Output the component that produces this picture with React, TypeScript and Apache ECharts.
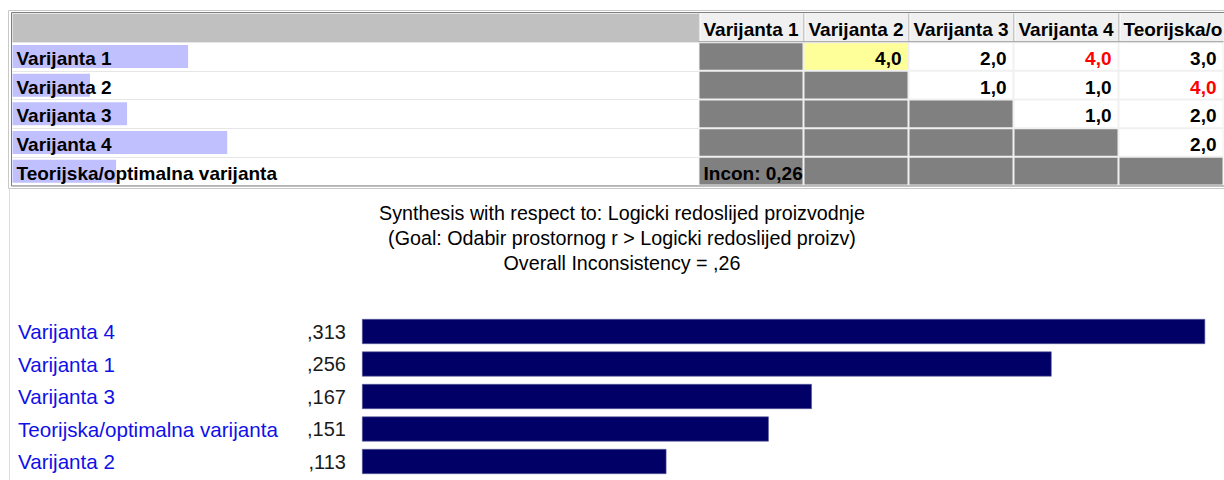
import React, { useEffect, useRef } from "react";
import * as echarts from "echarts";

// ---------- data ----------
const alternatives = [
  "Varijanta 1",
  "Varijanta 2",
  "Varijanta 3",
  "Varijanta 4",
  "Teorijska/optimalna varijanta",
];
const priorities = [0.256, 0.113, 0.167, 0.313, 0.151];
// upper-triangle pairwise judgments (row vs column)
const judgments: (number | null)[][] = [
  [null, 4.0, 2.0, 4.0, 3.0],
  [null, null, 1.0, 1.0, 4.0],
  [null, null, null, 1.0, 2.0],
  [null, null, null, null, 2.0],
  [null, null, null, null, null],
];
const invertedCells = [
  [0, 3],
  [1, 4],
];
const selectedCell = [0, 1];
const inconsistency = 0.26;
const titleLines = [
  "Synthesis with respect to: Logicki redoslijed proizvodnje",
  "(Goal: Odabir prostornog r > Logicki redoslijed proizv)",
];

// ---------- helpers ----------
const FONT = '"Liberation Sans", Arial, Helvetica, sans-serif';
const fmt1 = (v: number) => v.toFixed(1).replace(".", ",");
const fmtPri = (v: number) => v.toFixed(3).replace(/^0\./, ",");
const fmtInc = (v: number) => v.toFixed(2).replace(/^0\./, ",");

type Cell = { col: number; row: number; kind: string; text: string; red: boolean };
const cells: Cell[] = [];
alternatives.forEach((a, c) => cells.push({ col: c, row: 0, kind: "header", text: a, red: false }));
judgments.forEach((rowVals, r) => {
  rowVals.forEach((v, c) => {
    if (c <= r) {
      const text = r === alternatives.length - 1 && c === 0 ? "Incon: " + inconsistency.toFixed(2).replace(".", ",") : "";
      cells.push({ col: c, row: r + 1, kind: "gray", text, red: false });
    } else {
      const isSel = selectedCell[0] === r && selectedCell[1] === c;
      const isRed = invertedCells.some((p) => p[0] === r && p[1] === c);
      cells.push({ col: c, row: r + 1, kind: isSel ? "yellow" : "white", text: v == null ? "" : fmt1(v), red: isRed });
    }
  });
});

const synthesis = alternatives
  .map((name, i) => ({ name, value: priorities[i] }))
  .sort((a, b) => b.value - a.value);

export default function App() {
  const ref = useRef<HTMLDivElement>(null);
  useEffect(() => {
    document.body.style.margin = "0";
    if (!ref.current) return;
    const chart = echarts.init(ref.current, null, { renderer: "svg" });
    const tableTop = 13.5;
    const tableH = 172;
    const boldFont = `bold 19px ${FONT}`;
    const option: any = {
      animation: false,
      backgroundColor: "#ffffff",
      title: {
        text: [...titleLines, "Overall Inconsistency = " + fmtInc(inconsistency)].join("\n"),
        left: 622,
        top: 200,
        padding: 0,
        textAlign: "center",
        textStyle: {
          fontFamily: FONT,
          fontSize: 19.7,
          fontWeight: "normal",
          color: "#000",
          lineHeight: 25,
        },
      },
      grid: [
        { left: 12.5, top: tableTop, width: 686, height: tableH, show: false, containLabel: false },
        { left: 698.5, top: tableTop, width: 525, height: tableH, show: true, backgroundColor: "#f0f0f0", borderWidth: 0 },
        { left: 362, top: 315.25, width: 862, height: 162.5, show: false },
      ],
      xAxis: [
        { gridIndex: 0, type: "value", min: 0, max: 1, show: false },
        { gridIndex: 1, type: "category", data: alternatives, show: false },
        { gridIndex: 2, type: "value", min: 0, max: 0.32, show: false },
      ],
      yAxis: [
        {
          gridIndex: 0,
          type: "category",
          data: ["", ...alternatives],
          inverse: true,
          axisLine: { show: false },
          axisTick: { show: false },
          axisLabel: { show: false },
          splitLine: { show: true, interval: 0, lineStyle: { color: "#e6e6e6", width: 1 } },
          splitArea: {
            show: true,
            interval: 0,
            areaStyle: { color: ["#c0c0c0", "#ffffff", "#ffffff", "#ffffff", "#ffffff", "#ffffff"] },
          },
        },
        {
          gridIndex: 1,
          type: "category",
          data: ["", ...alternatives],
          inverse: true,
          show: false,
        },
        {
          gridIndex: 2,
          type: "category",
          data: synthesis.map((d) => d.name),
          inverse: true,
          axisLine: { show: false },
          axisTick: { show: false },
          axisLabel: {
            align: "left",
            margin: 344,
            color: "#1010e8",
            fontFamily: FONT,
            fontSize: 20.6,
          },
        },
      ],
      series: [
        {
          type: "bar",
          xAxisIndex: 0,
          yAxisIndex: 0,
          data: [null, ...priorities],
          barWidth: 23,
          itemStyle: { color: "#c0c0ff" },
          label: {
            show: true,
            position: "insideLeft",
            distance: 4,
            offset: [0, 2],
            formatter: (p: any) => p.name,
            color: "#000",
            fontFamily: FONT,
            fontSize: 19,
            fontWeight: "bold",
          },
        },
        {
          type: "custom",
          xAxisIndex: 1,
          yAxisIndex: 1,
          data: cells.map((c) => [c.col, c.row]),
          renderItem: (params: any, api: any) => {
            const cell = cells[params.dataIndex];
            const pt = api.coord([api.value(0), api.value(1)]);
            const sz = api.size([1, 1]);
            const x = pt[0] - sz[0] / 2;
            const y = pt[1] - sz[1] / 2;
            const w = sz[0];
            const h = sz[1];
            const children: any[] = [];
            if (cell.kind === "header") {
              children.push({ type: "rect", shape: { x, y, width: w, height: h }, style: { fill: "#f0f0f0" } });
              children.push({ type: "line", shape: { x1: x + 0.5, y1: y, x2: x + 0.5, y2: y + h }, style: { stroke: "#a0a0a0", lineWidth: 1 } });
              children.push({ type: "line", shape: { x1: x + 1.5, y1: y, x2: x + 1.5, y2: y + h - 1 }, style: { stroke: "#ffffff", lineWidth: 1 } });
              children.push({ type: "line", shape: { x1: x, y1: y + h - 0.5, x2: x + w, y2: y + h - 0.5 }, style: { stroke: "#a0a0a0", lineWidth: 1 } });
              children.push({
                type: "text",
                x: x + 5,
                y: y + h / 2 + 2,
                style: {
                  text: cell.text,
                  font: boldFont,
                  fill: "#000",
                  textAlign: "left",
                  textVerticalAlign: "middle",
                  width: w + 2,
                  overflow: "truncate",
                  ellipsis: "",
                },
              });
            } else {
              const fill = cell.kind === "gray" ? "#808080" : cell.kind === "yellow" ? "#ffff99" : "#ffffff";
              children.push({ type: "rect", shape: { x: x + 1, y: y + 1, width: w - 2, height: h - 2 }, style: { fill } });
              if (cell.text) {
                const left = cell.kind === "gray";
                children.push({
                  type: "text",
                  x: left ? x + 5 : x + w - 7,
                  y: y + h / 2 + 2,
                  style: {
                    text: cell.text,
                    font: boldFont,
                    fill: cell.red ? "#ff0000" : "#000",
                    textAlign: left ? "left" : "right",
                    textVerticalAlign: "middle",
                  },
                });
              }
            }
            return { type: "group", children };
          },
        },
        {
          type: "bar",
          xAxisIndex: 2,
          yAxisIndex: 2,
          data: synthesis.map((d) => d.value),
          barWidth: 25,
          itemStyle: { color: "#000066", borderColor: "#5c5c9c", borderWidth: 0.6 },
          label: {
            show: true,
            position: "left",
            distance: 16,
            formatter: (p: any) => fmtPri(p.value),
            color: "#1a1a1a",
            fontFamily: FONT,
            fontSize: 20,
          },
        },
      ],
      graphic: [
        { type: "rect", shape: { x: 8.5, y: 10.5, width: 1230, height: 178 }, style: { fill: "none", stroke: "#c8c8c8", lineWidth: 1 }, z: 10 },
        { type: "rect", shape: { x: 11.5, y: 12.5, width: 1230, height: 173.5 }, style: { fill: "none", stroke: "#808080", lineWidth: 1 }, z: 10 },
        { type: "line", shape: { x1: 9.5, y1: 189, x2: 9.5, y2: 480 }, style: { stroke: "#dcdcdc", lineWidth: 1 } },
      ],
    };
    chart.setOption(option);
    return () => chart.dispose();
  }, []);
  return <div ref={ref} style={{ width: 1224, height: 480 }} />;
}
